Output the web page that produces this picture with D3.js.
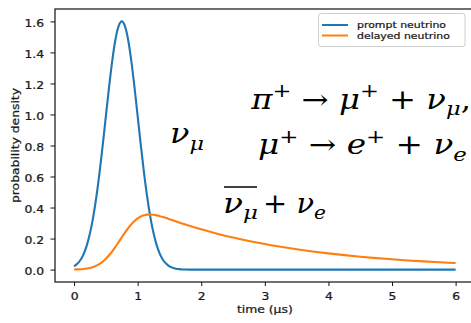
<!DOCTYPE html>
<html>
<head>
<meta charset="utf-8">
<script src="https://cdn.jsdelivr.net/npm/d3@7"></script>
<style>
  html, body { margin: 0; padding: 0; background: #fff; }
  svg { display: block; }
</style>
</head>
<body>
<svg id="chart" width="471" height="323"></svg>
<script>
// ---- data ----
const timeUs = [0,0.05,0.1,0.15,0.2,0.25,0.3,0.35,0.4,0.45,0.5,0.55,0.6,0.65,0.7,0.75,0.8,0.85,0.9,0.95,
  1.0,1.05,1.1,1.15,1.2,1.25,1.3,1.35,1.4,1.45,1.5,1.55,1.6,1.65,1.7,1.75,1.8,
  2.0,2.25,2.5,2.75,3.0,3.25,3.5,3.75,4.0,4.25,4.5,4.75,5.0,5.25,5.5,5.75,6.0];
const promptNeutrino = [0.021,0.037,0.062,0.100,0.156,0.234,0.337,0.468,0.624,0.801,0.989,1.176,1.346,1.482,1.569,1.600,
  1.569,1.482,1.346,1.176,0.989,0.801,0.624,0.468,0.337,0.234,0.156,0.100,0.062,0.037,0.021,0.012,0.006,0.003,0.001,0.0005,0,
  0,0,0,0,0,0,0,0,0,0,0,0,0,0,0,0,0];
const delayedNeutrino = [0.001,0.0013,0.0024,0.0041,0.0068,0.0109,0.0169,0.0253,0.0368,0.0516,0.0701,0.0924,0.1181,0.1466,0.1770,0.2080,
  0.2383,0.2666,0.2917,0.3129,0.3297,0.3420,0.3500,0.3541,0.3549,0.3531,0.3494,0.3444,0.3384,0.3319,0.3250,0.3180,0.3111,0.3042,0.2974,0.2907,0.2842,
  0.2594,0.2315,0.2066,0.1844,0.1646,0.1469,0.1311,0.1170,0.1044,0.0932,0.0832,0.0742,0.0662,0.0591,0.0528,0.0471,0.0420];
const seriesNames = ["prompt neutrino", "delayed neutrino"];
const seriesColors = ["#1f77b4", "#ff7f0e"];
const xTicks = [0,1,2,3,4,5,6];
const yTicks = [0.0,0.2,0.4,0.6,0.8,1.0,1.2,1.4,1.6];
const xLabel = "time (\u03bcs)";
const yLabel = "probability density";

// ---- layout ----
const svg = d3.select("#chart");
const pLeft = 55, pRight = 474.7, pTop = 9, pBottom = 282;
const x = d3.scaleLinear().domain([-0.3, 6.3]).range([pLeft, pRight]);
const y = d3.scaleLinear().domain([-0.08, 1.68]).range([pBottom, pTop]);
const SX = 1.2; // horizontal stretch of the reference's labels
const labelStyle = sel => sel.attr("font-family", "DejaVu Sans").attr("fill", "#1a1a1a")
  .attr("stroke", "#1a1a1a").attr("stroke-width", 0.25);

// frame
svg.append("rect").attr("x", pLeft).attr("y", pTop).attr("width", pRight-pLeft).attr("height", pBottom-pTop)
  .attr("fill", "none").attr("stroke", "#111").attr("stroke-width", 1.2);

// axes
const xAxis = svg.append("g").attr("transform", `translate(0,${pBottom})`)
  .call(d3.axisBottom(x).tickValues(xTicks).tickFormat(d3.format("d")).tickSize(4).tickPadding(6.5));
const yAxis = svg.append("g").attr("transform", `translate(${pLeft},0)`)
  .call(d3.axisLeft(y).tickValues(yTicks).tickFormat(d3.format(".1f")).tickSize(4.5).tickPadding(6.5));
[xAxis, yAxis].forEach(a => {
  a.select(".domain").remove();
  a.selectAll("line").attr("stroke", "#111").attr("stroke-width", 1);
  a.selectAll("text").call(labelStyle).attr("font-size", 10.3);
});
xAxis.selectAll("text").attr("transform", `scale(${SX},1)`);
yAxis.selectAll("text").attr("x", -11 / SX).attr("dy", "0.48em").attr("transform", `scale(${SX},1)`);

// axis labels
svg.append("text").attr("transform", `translate(${x(3)},313) scale(${SX},1)`)
  .attr("text-anchor", "middle").call(labelStyle).attr("font-size", 10.3)
  .text(xLabel);
svg.append("text").attr("transform", `translate(18.5,${(pTop+pBottom)/2}) rotate(-90) scale(${SX},1)`)
  .attr("text-anchor", "middle").call(labelStyle).attr("font-size", 10.3)
  .text(yLabel);

// lines
const line = d3.line().x((d) => x(d[0])).y((d) => y(d[1])).curve(d3.curveMonotoneX);
[promptNeutrino, delayedNeutrino].forEach((vals, i) => {
  svg.append("path").datum(timeUs.map((t, k) => [t, vals[k]]))
    .attr("d", line).attr("fill", "none").attr("stroke", seriesColors[i]).attr("stroke-width", 2.1);
});

// legend
const lg = svg.append("g");
lg.append("rect").attr("x", 318.5).attr("y", 13.5).attr("width", 146.5).attr("height", 33).attr("rx", 2.5)
  .attr("fill", "#fff").attr("fill-opacity", 0.85).attr("stroke", "#d0d0d0").attr("stroke-width", 1);
seriesNames.forEach((name, i) => {
  const cy = 25 + i * 10.5;
  lg.append("line").attr("x1", 322).attr("x2", 348).attr("y1", cy).attr("y2", cy)
    .attr("stroke", seriesColors[i]).attr("stroke-width", 2);
  lg.append("text").attr("transform", `translate(357,${cy + 3.3}) scale(1.15,1)`)
    .call(labelStyle).attr("font-size", 9.5).text(name);
});

// math annotations
const FS = 27;
function mathText(parts, x0, base, targetW) {
  const t = svg.append("text").attr("font-family", "DejaVu Serif").attr("font-size", FS).attr("fill", "#000");
  let shift = 0;
  parts.forEach(([s, kind]) => {
    let target = 0, size = FS, italic = false;
    if (kind === "i") italic = true;
    if (kind === "sup") { target = -0.42 * FS; size = 0.7 * FS; }
    if (kind === "subi") { target = 0.25 * FS; size = 0.7 * FS; italic = true; }
    t.append("tspan").attr("dy", target - shift).attr("font-size", size)
      .attr("font-style", italic ? "italic" : "normal").text(s);
    shift = target;
  });
  const bb = t.node().getBBox();
  const sx = targetW ? targetW / bb.width : 1;
  t.attr("transform", `translate(${x0},${base}) scale(${sx},1) translate(${-bb.x},0)`);
  return t;
}
mathText([["\u03c0","i"],["+","sup"],[" \u2192 ","r"],["\u03bc","i"],["+","sup"],[" + ","r"],["\u03bd","i"],["\u03bc","subi"],[",","r"]], 250, 108.5, 221);
mathText([["\u03bc","i"],["+","sup"],[" \u2192 ","r"],["e","i"],["+","sup"],[" + ","r"],["\u03bd","i"],["e","subi"]], 258, 154, 209);
mathText([["\u03bd","i"],["\u03bc","subi"]], 170, 143, 34);
mathText([["\u03bd","i"],["\u03bc","subi"]], 223, 212.5, 35);
mathText([["+ ","r"],["\u03bd","i"],["e","subi"]], 263, 212.5, 63);
svg.append("line").attr("x1", 224).attr("x2", 257).attr("y1", 187).attr("y2", 187)
  .attr("stroke", "#000").attr("stroke-width", 1.5);
</script>
</body>
</html>
